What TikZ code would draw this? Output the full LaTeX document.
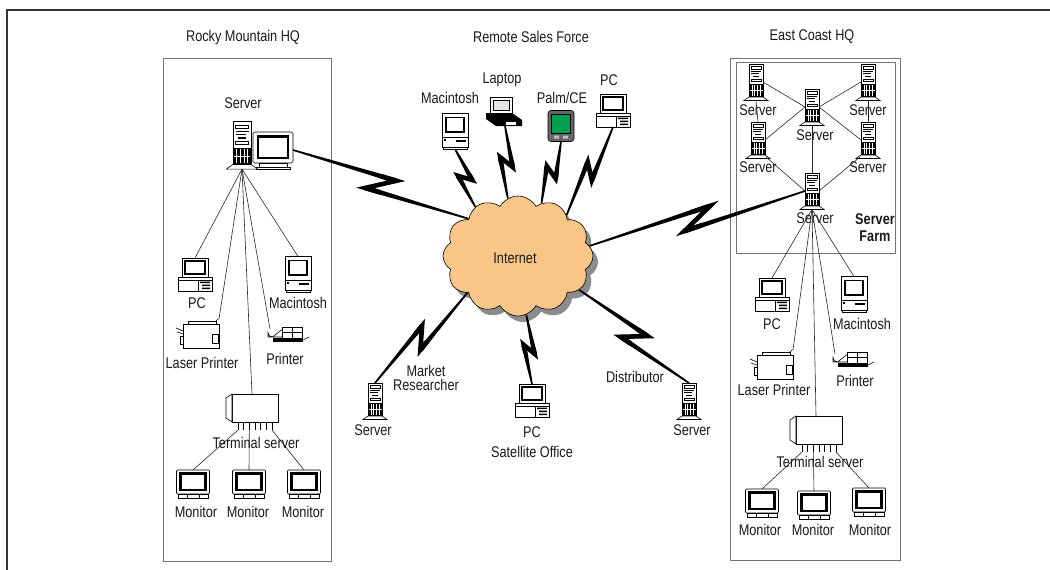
\documentclass[tikz,border=0pt]{standalone}
\usepackage{fontspec}
\setmainfont{Liberation Sans}[FakeStretch=0.82]
\usetikzlibrary{calc,shapes.symbols,shadows}

\definecolor{cloudfill}{RGB}{250,198,135}
\definecolor{palmgreen}{RGB}{0,160,80}
\definecolor{framegray}{RGB}{115,115,115}

% tapered wedge from #1 to #2 with half widths #3 and #4
\newcommand\taper[4]{%
  \fill ($(#1)!#3!90:(#2)$) -- ($(#2)!#4!-90:(#1)$) -- ($(#2)!#4!90:(#1)$) -- ($(#1)!#3!-90:(#2)$) -- cycle;}
% lightning-bolt link from #1 to #2, zig offset #3
\newcommand\zap[3]{%
  \coordinate (zs) at (#1);
  \coordinate (ze) at (#2);
  \coordinate (zm1) at ($(zs)!0.57!(ze)$);
  \coordinate (zm2) at ($(zs)!0.43!(ze)$);
  \coordinate (zp) at ($(zm1)!#3!90:(ze)$);
  \coordinate (zq) at ($(zm2)!#3!-90:(ze)$);
  \taper{zs}{zp}{0.8pt}{2.5pt}
  \taper{zq}{ze}{2.5pt}{0.8pt}
  \draw[line width=4.6pt, line join=miter, miter limit=25]
    ($(zs)!0.85!(zp)$) -- (zp) -- (zq) -- ($(zq)!0.15!(ze)$);
}

\tikzset{
  lbl/.style={inner sep=0pt, text=black!90},
  ico/.style={draw=black, line width=0.6pt, fill=white},
  link/.style={draw=black!85, line width=0.6pt},
  frame/.style={draw=framegray, line width=0.9pt},
  % server tower
  tower/.pic={
    \path[ico] (-7,-18) rectangle (7,15);
    \path[ico] (-5,-15.5) rectangle (5,-12.5);
    \draw[line width=0.4pt] (-5,-10.5) -- (5,-10.5) (-5,-8.5) -- (3,-8.5);
    \fill (-3,-6.5) rectangle (3,-5);
    \path[ico] (-5,-3) rectangle (5,-0.5);
    \fill (-7,2) rectangle (7,15);
    \draw[white, line width=0.35pt] (-4.2,3) -- (-4.2,14) (-1.4,3) -- (-1.4,14)
      (1.4,3) -- (1.4,14) (4.2,3) -- (4.2,14) (-6.5,8.5) -- (6.5,8.5);
    \path[ico] (-7,15) -- (7,15) -- (12,18.5) -- (-12,18.5) -- cycle;
    \coordinate (-top) at (0,-18);
    \coordinate (-bot) at (0,18.5);
    \coordinate (-l) at (-7,0);
    \coordinate (-r) at (7,0);
    \coordinate (-se) at (8,17);
    \coordinate (-sw) at (-8,17);
  },
  % monitor on a stand
  deskmon/.pic={
    \path[ico, rounded corners=1.5pt] (-20,-19) rectangle (20,12);
    \path[draw=black, line width=2.2pt, fill=white] (-15,-14.5) rectangle (15,7);
    \path[ico] (-14,12) rectangle (14,16);
    \path[ico] (-17,16) rectangle (17,18.5);
    \coordinate (-r) at (20,-1);
  },
  % monitor
  crt/.pic={
    \path[ico, rounded corners=1pt] (-16.5,-14) rectangle (16.5,10);
    \path[draw=black, line width=2.2pt, fill=white] (-12.5,-10.5) rectangle (12.5,6);
    \path[ico] (-15,10) rectangle (15,14);
    \draw[line width=0.4pt] (-6,10) -- (-6,14) (6,10) -- (6,14);
    \coordinate (-top) at (0,-14);
  },
  % desktop PC
  pc/.pic={
    \path[ico] (-13,-17) rectangle (13,2);
    \path[draw=black, line width=1.8pt, fill=white] (-10,-14) rectangle (10,-1);
    \path[ico] (-17,2) rectangle (17,16);
    \draw[line width=0.4pt] (-17,5) -- (17,5) (3,5) -- (3,16);
    \fill (5,6.5) rectangle (15,8) (7,9.5) rectangle (15,11) (7,12.5) rectangle (15,14);
    \coordinate (-top) at (0,-17);
    \coordinate (-bot) at (0,16);
  },
  % compact Macintosh
  mac/.pic={
    \path[ico] (-13,-17.5) rectangle (13,16);
    \path[draw=black, line width=1.8pt, fill=white] (-9,-13.5) rectangle (9,1);
    \draw[line width=0.4pt] (-13,6) -- (13,6);
    \fill (1,9) rectangle (11,10.5);
    \fill (-11,8) rectangle (-9.5,10);
    \path[ico] (-12,16) rectangle (12,18);
    \coordinate (-top) at (0,-17.5);
    \coordinate (-bot) at (0,18);
  },
  % laser printer
  laser/.pic={
    \draw[line width=0.6pt] (-17,-2) -- (-24,-5) (-17,1) -- (-23,-1);
    \path[ico] (-17,-9) rectangle (19,15);
    \path[ico] (-12,-12) rectangle (16,-9);
    \fill (-10,-12) rectangle (12,-10.8);
    \draw[line width=0.6pt] (16,-12) -- (18.5,-14.5);
    \path[ico] (12,1) rectangle (18,10);
    \path[ico] (-19.5,3) rectangle (-17,11);
    \coordinate (-top) at (19,-14);
  },
  % printer
  printer/.pic={
    \path[ico] (-20,-3.5) arc[start angle=180, end angle=90, radius=4.5] -- (-4,-8) -- (-4,1) -- (-20,1) -- cycle;
    \path[ico] (-6,-9) rectangle (14,2);
    \draw[line width=0.5pt] (4,-9) -- (4,2) (-6,-3.5) -- (14,-3.5);
    \fill (-15,2) rectangle (15,6);
    \draw[line width=0.6pt] (15,4) -- (21,1);
    \coordinate (-top) at (-18,-7);
  },
  % terminal server
  termsrv/.pic={
    \path[ico] (-20,-14) rectangle (26,14);
    \path[ico] (-26,-10) -- (-20,-14) -- (-20,14) -- (-26,10) -- cycle;
    \foreach \x in {-14,-8.33,-2.67,3,8.67,14.33,20} {\draw[line width=0.5pt] (\x,14) -- (\x,22);}
    \coordinate (-top) at (0,-14);
    \coordinate (-p1) at (-14,22);
    \coordinate (-p3) at (-2.67,22);
    \coordinate (-p7) at (20,22);
  },
  % laptop
  laptop/.pic={
    \path[ico] (-13,-15) rectangle (9,1);
    \path[draw=black, line width=0.5pt, fill=black!10] (-10,-12) rectangle (6,-2);
    \fill (-17,1) -- (9,1) -- (19,8) -- (19,14) -- (-7,14) -- (-17,7) -- cycle;
    \fill[white] (3,10) rectangle (13,12.5);
    \coordinate (-bot) at (2,14);
  },
  % handheld
  palm/.pic={
    \path[draw=black, line width=0.6pt, fill=black!60, rounded corners=3pt] (-13,-15.5) rectangle (13,15.5);
    \path[draw=black, line width=0.6pt, fill=palmgreen] (-9.5,-12) rectangle (9.5,7);
    \fill[black!25] (-7,9.5) rectangle (-2,12.5) (2,9.5) rectangle (7,12.5);
    \coordinate (-bot) at (0,15.5);
  },
}

\begin{document}
\begin{tikzpicture}[x=1pt, y=-1pt, font=\fontsize{15.5}{16}\selectfont]
\useasboundingbox (0,0) rectangle (1050,570);

% page frame
\draw[black!80, line width=1.4pt] (7,570) -- (7,10) -- (1050,10);

% site boxes
\draw[frame] (163,58) rectangle (331,561);
\draw[frame] (730,58) rectangle (900,560);
\draw[frame] (736,62) rectangle (895,253);

% titles
\node[lbl] (tRM) at (243,37) {Rocky Mountain HQ};
\node[lbl] (tRS) at (531,37) {Remote Sales Force};
\node[lbl] (tEC) at (812,37) {East Coast HQ};

% ---------- Rocky Mountain HQ ----------
\node[lbl] (lsrvT) at (243,103) {Server};
\pic (lmon) at (273,151) {deskmon};
\pic[scale=1.3] (lsrv) at (242,145) {tower};
\pic (lpc) at (195,275) {pc};
\pic (lmac) at (298,274) {mac};
\pic (llas) at (200,333) {laser};
\pic (lprn) at (288,336) {printer};
\pic (lts) at (252,408) {termsrv};
\pic (lm1) at (193,484) {crt};
\pic (lm2) at (249,484) {crt};
\pic (lm3) at (304,484) {crt};

\draw[link] (lsrv-bot) -- (lpc-top);
\draw[link] (lsrv-bot) -- (llas-top);
\draw[link] (lsrv-bot) -- (lts-top);
\draw[link] (lsrv-bot) -- (lprn-top);
\draw[link] (lsrv-bot) -- (lmac-top);
\draw[link] (lts-p1) -- (lm1-top);
\draw[link] (lts-p3) -- (lm2-top);
\draw[link] (lts-p7) -- (lm3-top);

\node[lbl] (lpcT) at (197,303) {PC};
\node[lbl] (lmacT) at (298,303) {Macintosh};
\node[lbl] (llasT) at (202,363) {Laser Printer};
\node[lbl] (lprnT) at (285,359) {Printer};
\node[lbl] (ltsT) at (256,443) {Terminal server};
\node[lbl] (lm1T) at (196,512) {Monitor};
\node[lbl] (lm2T) at (248,512) {Monitor};
\node[lbl] (lm3T) at (303,512) {Monitor};

% ---------- Internet ----------
\node[cloud, cloud puffs=12, cloud puff arc=120, aspect=1.25,
      minimum width=150pt, minimum height=120pt, inner sep=0pt,
      draw=black, line width=0.6pt, fill=cloudfill,
      drop shadow={shadow xshift=5pt, shadow yshift=-6pt, fill=black!45, opacity=1}]
      (net) at (518,256) {};
\node[lbl] (netT) at (515,258) {Internet};

% ---------- Remote sales force ----------
\pic (rmac) at (455,131) {mac};
\pic (rlap) at (503,112) {laptop};
\pic (rpalm) at (561,126) {palm};
\pic (rpc) at (613,111) {pc};
\node[lbl] (rmacT) at (450,98) {Macintosh};
\node[lbl] (rlapT) at (502,80) {Laptop};
\node[lbl] (rpalmT) at (562,98) {Palm/CE};
\node[lbl] (rpcT) at (609,80) {PC};

\pic (mrsrv) at (375,401) {tower};
\pic (satpc) at (532,401) {pc};
\pic (dsrv) at (689,401) {tower};
\node[lbl] (mrsrvT) at (373,430) {Server};
\node[lbl, align=center, font=\fontsize{15.5}{14.5}\selectfont] (mrT) at (426,378) {Market\\Researcher};
\node[lbl] (satT1) at (532,432) {PC};
\node[lbl] (satT2) at (532,452) {Satellite Office};
\node[lbl] (distT) at (635,377) {Distributor};
\node[lbl] (dsrvT) at (692,430) {Server};

% ---------- East Coast HQ: server farm ----------
\pic (fTL) at (756,82) {tower};
\pic (fTR) at (868,82) {tower};
\pic (fC) at (812,107) {tower};
\pic (fML) at (758,140) {tower};
\pic (fMR) at (868,140) {tower};
\pic (fB) at (812,191) {tower};

\node[lbl] (fTLT) at (758,110) {Server};
\node[lbl] (fTRT) at (868,110) {Server};
\node[lbl] (fCT) at (815,135) {Server};
\node[lbl] (fMLT) at (758,167) {Server};
\node[lbl] (fMRT) at (868,167) {Server};
\node[lbl] (fBT) at (815,218) {Server};
\node[lbl, align=center, font=\bfseries\fontsize{15.5}{17}\selectfont] (sfT) at (875,228) {Server\\Farm};

\draw[link] (fTL-r) -- (fC-l);
\draw[link] (fC-r) -- (fMR-l);
\draw[link] (fTR-l) -- (fC-r);
\draw[link] (fC-l) -- (fML-r);
\draw[link] (fTL-bot) -- (fML-top);
\draw[link] (fTR-bot) -- (fMR-top);
\draw[link] (fC-bot) -- (fB-top);
\draw[link] (fML-se) -- (fB-l);
\draw[link] (fMR-sw) -- (fB-r);

% ---------- East Coast HQ: office ----------
\pic (epc) at (772,295) {pc};
\pic (emac) at (854,294) {mac};
\pic (elas) at (774,364) {laser};
\pic (eprn) at (853,361) {printer};
\pic (ets) at (816,430) {termsrv};
\pic (em1) at (762,503) {crt};
\pic (em2) at (814,505) {crt};
\pic (em3) at (869,502) {crt};

\draw[link] (fB-bot) -- (epc-top);
\draw[link] (fB-bot) -- (elas-top);
\draw[link] (fB-bot) -- (ets-top);
\draw[link] (fB-bot) -- (eprn-top);
\draw[link] (fB-bot) -- (emac-top);
\draw[link] (ets-p1) -- (em1-top);
\draw[link] (ets-p3) -- (em2-top);
\draw[link] (ets-p7) -- (em3-top);

\node[lbl] (epcT) at (772,324) {PC};
\node[lbl] (emacT) at (862,324) {Macintosh};
\node[lbl] (elasT) at (774,390) {Laser Printer};
\node[lbl] (eprnT) at (855,381) {Printer};
\node[lbl] (etsT) at (820,462) {Terminal server};
\node[lbl] (em1T) at (760,530) {Monitor};
\node[lbl] (em2T) at (813,530) {Monitor};
\node[lbl] (em3T) at (870,530) {Monitor};

% ---------- WAN links ----------
\zap{lmon-r}{net.143}{9pt}
\zap{rmac-bot}{net.131}{6pt}
\zap{rlap-bot}{net.100}{6pt}
\zap{rpalm-bot}{net.66}{6pt}
\zap{rpc-bot}{net.40}{6pt}
\zap{net.8}{fB-l}{9pt}
\zap{net.216}{mrsrv-top}{8pt}
\zap{net.-82}{satpc-top}{5pt}
\zap{net.-29}{dsrv-top}{9pt}

\end{tikzpicture}
\end{document}
